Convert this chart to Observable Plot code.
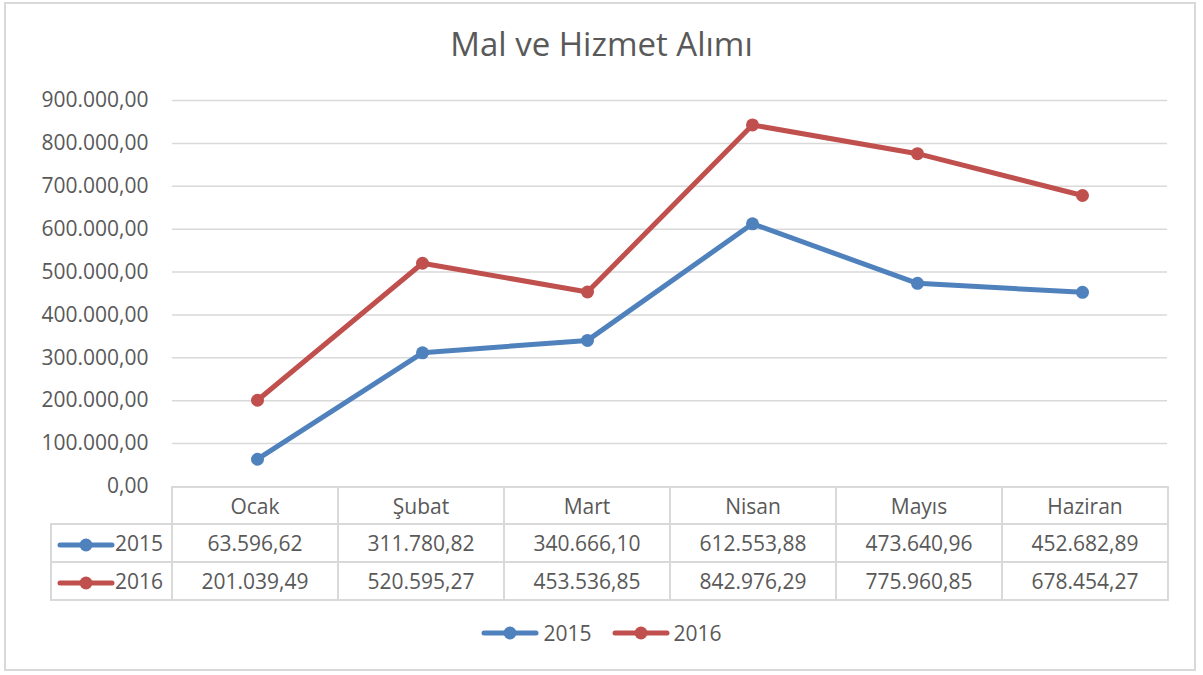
<!DOCTYPE html>
<html>
<head>
<meta charset="utf-8">
<script src="https://cdn.jsdelivr.net/npm/d3@7"></script>
<script src="https://cdn.jsdelivr.net/npm/@observablehq/plot@0.6"></script>
<style>
  html, body { margin: 0; padding: 0; background: #fff; }
  #wrap { position: relative; width: 1203px; height: 675px; font-family: "Open Sans", sans-serif; color: #595959; overflow: hidden; }
  #frame { position: absolute; left: 4px; top: 2px; width: 1192px; height: 669px; border: 2px solid #d9d9d9; box-sizing: border-box; }
  #title { position: absolute; left: 0; width: 1203px; top: 21px; text-align: center; font-size: 33px; line-height: 45px; color: #595959; }
  #chart { position: absolute; left: 0; top: 0; }
  #tbl { position: absolute; left: 50px; top: 486px; border-collapse: collapse; font-size: 21px; color: #595959; }
  #tbl td { border: 2px solid #d9d9d9; text-align: center; padding: 0; box-sizing: border-box; }
  #tbl td.empty { border-top: none; border-left: none; }
  #tbl td.lab { text-align: left; padding-left: 5px; white-space: nowrap; }
  #legend { position: absolute; top: 619px; left: 0; width: 1203px; display: flex; justify-content: center; gap: 20px; font-size: 21px; }
  .item { display: flex; align-items: center; gap: 4px; }
  .sw { display: inline-block; vertical-align: middle; }
</style>
</head>
<body>
<div id="wrap">
  <div id="frame"></div>
  <div id="chart"></div>
  <div id="title">Mal ve Hizmet Alımı</div>
  <table id="tbl"></table>
  <div id="legend"></div>
</div>
<script>
const months = ["Ocak", "Şubat", "Mart", "Nisan", "Mayıs", "Haziran"];
const series = ["2015", "2016"];
const values2015 = [63596.62, 311780.82, 340666.10, 612553.88, 473640.96, 452682.89];
const values2016 = [201039.49, 520595.27, 453536.85, 842976.29, 775960.85, 678454.27];
const yTicks = [0, 100000, 200000, 300000, 400000, 500000, 600000, 700000, 800000, 900000];
const colors = ["#4f81bd", "#c0504d"];

const trLocale = d3.formatLocale({decimal: ",", thousands: ".", grouping: [3], currency: ["", ""]});
const fmt = trLocale.format(",.2f");

const seriesValues = [values2015, values2016];
const data = [];
series.forEach((s, si) => months.forEach((m, mi) => data.push({series: s, month: m, value: seriesValues[si][mi]})));

const chart = Plot.plot({
  width: 1203,
  height: 675,
  marginLeft: 172,
  marginRight: 36,
  marginTop: 100,
  marginBottom: 189,
  style: {fontFamily: "Open Sans, sans-serif", fontSize: "21px", color: "#595959", background: "transparent"},
  x: {type: "point", domain: months, padding: 0.5, axis: null},
  y: {domain: [0, 900000], ticks: yTicks, tickFormat: fmt, tickSize: 0, tickPadding: 24, label: null},
  color: {domain: series, range: colors},
  marks: [
    Plot.gridY(yTicks.filter(d => d > 0), {stroke: "#d9d9d9", strokeOpacity: 1, strokeWidth: 1.5}),
    Plot.line(data, {x: "month", y: "value", z: "series", stroke: "series", strokeWidth: 5, strokeLinecap: "round", strokeLinejoin: "round"}),
    Plot.dot(data, {x: "month", y: "value", fill: "series", r: 6.5})
  ]
});
document.getElementById("chart").appendChild(chart);

function swatch(color) {
  return `<svg class="sw" width="58" height="16"><line x1="3" y1="8" x2="55" y2="8" stroke="${color}" stroke-width="5" stroke-linecap="round"/><circle cx="29" cy="8" r="6.5" fill="${color}"/></svg>`;
}

const tbl = document.getElementById("tbl");
let html = `<tr style="height:37px"><td class="empty" style="width:121px"></td>` +
  months.map(m => `<td style="width:166px">${m}</td>`).join("") + `</tr>`;
series.forEach((s, si) => {
  html += `<tr style="height:38px"><td class="lab">${swatch(colors[si])}${s}</td>` +
    seriesValues[si].map(v => `<td>${fmt(v)}</td>`).join("") + `</tr>`;
});
tbl.innerHTML = html;

document.getElementById("legend").innerHTML = series.map((s, si) =>
  `<span class="item">${swatch(colors[si])}<span>${s}</span></span>`).join("");
</script>
</body>
</html>
